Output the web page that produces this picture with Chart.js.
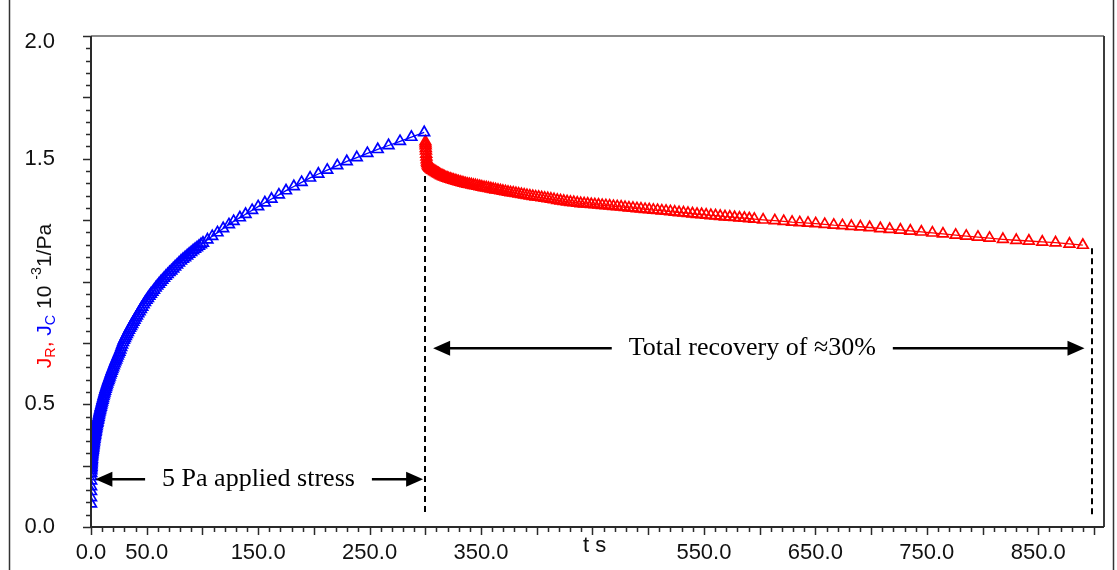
<!DOCTYPE html>
<html>
<head>
<meta charset="utf-8">
<script src="https://cdn.jsdelivr.net/npm/chart.js@4.4.1/dist/chart.umd.min.js"></script>
<style>
  html, body { margin: 0; padding: 0; background: #ffffff; }
  canvas { display: block; }
</style>
</head>
<body>
<canvas id="creep" width="1117" height="570"></canvas>
<script>
// Creep phase (5 Pa applied), time in s, compliance J_C in 10^-3 1/Pa
const creepTime = [
  0.02, 0.04, 0.07, 0.1, 0.15, 0.2, 0.25, 0.3, 0.35, 0.4,
  0.45, 0.5, 0.57, 0.65, 0.72, 0.8, 0.9, 1.0, 1.1, 1.2,
  1.32, 1.45, 1.57, 1.7, 1.85, 2.0, 2.15, 2.3, 2.47, 2.65,
  2.82, 3.0, 3.2, 3.4, 3.62, 3.85, 4.07, 4.3, 4.55, 4.8,
  5.07, 5.35, 5.62, 5.9, 6.2, 6.5, 6.8, 7.1, 7.42, 7.75,
  8.1, 8.45, 8.82, 9.2, 9.6, 10.0, 10.4, 10.8, 11.25, 11.7,
  12.15, 12.6, 13.1, 13.6, 14.1, 14.6, 15.15, 15.7, 16.25, 16.8,
  17.4, 18.0, 18.6, 19.2, 19.85, 20.5, 21.2, 21.9, 22.6, 23.3,
  24.05, 24.8, 25.55, 26.3, 27.1, 27.9, 28.75, 29.6, 30.45, 31.3,
  32.2, 33.1, 34.05, 35.0, 36.0, 37.0, 38.05, 39.1, 40.2, 41.3,
  42.45, 43.6, 44.8, 46.0, 47.25, 48.5, 49.8, 51.1, 52.45, 53.8,
  55.2, 56.6, 58.05, 59.5, 61.0, 62.5, 64.05, 65.6, 67.2, 68.8,
  70.45, 72.1, 73.8, 75.5, 77.25, 79.0, 80.8, 82.6, 84.45, 86.3,
  88.1, 89.9, 91.65, 93.4, 95.15, 96.9, 98.7,
  100.5, 104.5, 108.8, 113.5, 118.6, 123.8, 128.0, 133.6, 138.7, 144.6,
  150.0, 156.0, 162.0, 168.6, 175.0, 182.0, 189.0, 196.6, 204.0, 212.0,
  221.0, 229.5, 238.5, 248.0, 257.3, 267.0, 277.3, 287.5, 299.0
];
const creepCompliance = [
  0.095, 0.120, 0.145, 0.165, 0.188, 0.205, 0.219, 0.230, 0.238, 0.244,
  0.250, 0.255, 0.261, 0.267, 0.272, 0.277, 0.284, 0.290, 0.295, 0.299,
  0.304, 0.308, 0.313, 0.317, 0.322, 0.327, 0.332, 0.336, 0.341, 0.347,
  0.352, 0.358, 0.364, 0.369, 0.375, 0.381, 0.387, 0.392, 0.398, 0.404,
  0.410, 0.417, 0.423, 0.429, 0.436, 0.442, 0.448, 0.455, 0.462, 0.469,
  0.475, 0.482, 0.489, 0.496, 0.503, 0.510, 0.517, 0.524, 0.532, 0.540,
  0.547, 0.554, 0.562, 0.569, 0.576, 0.583, 0.591, 0.598, 0.605, 0.612,
  0.620, 0.627, 0.635, 0.642, 0.650, 0.658, 0.666, 0.674, 0.681, 0.689,
  0.697, 0.705, 0.713, 0.722, 0.732, 0.742, 0.752, 0.761, 0.769, 0.777,
  0.785, 0.793, 0.802, 0.810, 0.818, 0.826, 0.835, 0.843, 0.852, 0.860,
  0.869, 0.878, 0.887, 0.896, 0.906, 0.915, 0.924, 0.932, 0.941, 0.949,
  0.957, 0.965, 0.974, 0.982, 0.990, 0.998, 1.006, 1.014, 1.022, 1.029,
  1.037, 1.044, 1.052, 1.060, 1.068, 1.076, 1.084, 1.091, 1.098, 1.105,
  1.112, 1.119, 1.126, 1.132, 1.138, 1.144, 1.151,
  1.157, 1.170, 1.184, 1.199, 1.216, 1.232, 1.245, 1.260, 1.274, 1.290,
  1.305, 1.321, 1.336, 1.353, 1.370, 1.387, 1.404, 1.422, 1.438, 1.454,
  1.472, 1.489, 1.505, 1.522, 1.538, 1.554, 1.571, 1.588, 1.607
];

// Recovery phase (stress removed at 300 s), compliance J_R in 10^-3 1/Pa
const recoveryTime = [
  300.1, 300.2, 300.3, 300.45, 300.6, 300.8, 301.0, 301.25, 301.5, 301.8,
  302.2, 302.7, 303.3, 304.0, 304.8, 305.6, 306.4, 307.2, 308.0, 308.9,
  309.8, 310.8, 311.8, 312.8, 313.9, 315.0, 316.1, 317.3, 318.5, 319.7,
  321.0, 322.4, 323.8, 325.2, 326.7, 328.2, 329.7, 331.3, 332.9, 334.5,
  336.2, 337.9, 339.6, 341.4, 343.2, 345.0, 346.9, 348.8, 350.7, 352.7,
  354.7, 356.7, 358.8, 360.9, 363.0, 365.2, 367.4, 369.6, 371.9, 374.2,
  376.5, 378.9, 381.3, 383.7, 386.2, 388.7, 391.2, 393.8, 396.4, 399.0,
  401.7, 404.4, 407.1, 409.9, 412.7, 415.5, 418.4, 421.3, 424.2, 427.2,
  430.2, 433.2, 436.3, 439.4, 442.5, 445.7, 448.9, 452.1, 455.4, 458.7,
  462.0, 465.4, 468.8, 472.2, 475.7, 479.2, 482.7, 486.3, 489.9, 493.5,
  497.2, 500.9, 504.6, 508.4, 512.2, 516.0, 519.9, 523.8, 527.7, 531.7,
  535.7, 539.7, 543.8, 547.9, 552.0, 556.2, 560.4, 564.6, 568.9, 573.2,
  577.5, 581.9, 586.3, 590.7, 595.2,
  603.1, 613.6, 621.6, 629.1, 636.0, 643.4, 650.3, 658.4, 666.5, 674.3,
  682.3, 690.4, 698.7, 708.3, 716.7, 726.3, 735.2, 745.1, 755.0, 764.5,
  775.9, 785.4, 795.9, 806.3, 818.3, 830.3, 841.6, 853.6, 865.5, 878.0,
  890.0
];
const recoveryCompliance = [
  1.570, 1.562, 1.554, 1.543, 1.532, 1.519, 1.508, 1.497, 1.488, 1.481,
  1.475, 1.470, 1.466, 1.462, 1.459, 1.456, 1.454, 1.452, 1.449, 1.447,
  1.444, 1.441, 1.439, 1.436, 1.433, 1.431, 1.428, 1.426, 1.423, 1.421,
  1.419, 1.417, 1.415, 1.413, 1.411, 1.409, 1.407, 1.405, 1.403, 1.401,
  1.399, 1.397, 1.396, 1.394, 1.392, 1.391, 1.389, 1.387, 1.385, 1.383,
  1.382, 1.380, 1.378, 1.376, 1.374, 1.372, 1.370, 1.368, 1.366, 1.364,
  1.362, 1.361, 1.359, 1.357, 1.355, 1.353, 1.351, 1.349, 1.347, 1.345,
  1.344, 1.342, 1.340, 1.338, 1.336, 1.334, 1.331, 1.329, 1.327, 1.325,
  1.323, 1.322, 1.320, 1.318, 1.317, 1.316, 1.314, 1.313, 1.312, 1.310,
  1.309, 1.308, 1.306, 1.305, 1.304, 1.302, 1.300, 1.299, 1.297, 1.296,
  1.294, 1.293, 1.291, 1.290, 1.288, 1.287, 1.285, 1.283, 1.281, 1.280,
  1.278, 1.276, 1.274, 1.273, 1.271, 1.269, 1.268, 1.266, 1.264, 1.263,
  1.261, 1.259, 1.258, 1.256, 1.254,
  1.251, 1.248, 1.245, 1.242, 1.240, 1.238, 1.236, 1.233, 1.230, 1.228,
  1.225, 1.223, 1.220, 1.216, 1.213, 1.210, 1.206, 1.202, 1.198, 1.194,
  1.189, 1.185, 1.181, 1.177, 1.172, 1.168, 1.165, 1.161, 1.158, 1.153,
  1.148
];

// Axis tick labels
const xTickLabels = [0, 50, 150, 250, 350, 550, 650, 750, 850];
const yTickLabels = [0.0, 0.5, 1.5, 2.0];
const xTitle = 't s';
const xTitleAt = 452;

// Annotation text
const stressText = '5 Pa applied stress';
const recoveryText = 'Total recovery of \u224830%';

const BLUE = '#0000ff';
const RED = '#ff0000';

const toPoints = (xs, ys) => xs.map((t, i) => ({ x: t, y: ys[i] }));

const tickFont = '22px "Liberation Sans", Arial, sans-serif';
const noteFont = '26px "Liberation Serif", "Times New Roman", serif';

function arrowHead(ctx, tipX, y, dir) {
  const len = 17, half = 7.5;
  ctx.beginPath();
  ctx.moveTo(tipX, y);
  ctx.lineTo(tipX - dir * len, y - half);
  ctx.lineTo(tipX - dir * len, y + half);
  ctx.closePath();
  ctx.fill();
}

function labelledArrow(ctx, xs, ys, t1, t2, v, tText, text) {
  const x1 = xs.getPixelForValue(t1);
  const x2 = xs.getPixelForValue(t2);
  const y = ys.getPixelForValue(v);
  const xc = xs.getPixelForValue(tText);
  ctx.font = noteFont;
  const w = ctx.measureText(text).width;
  const gap = 17;
  ctx.strokeStyle = '#000';
  ctx.fillStyle = '#000';
  ctx.lineWidth = 2.5;
  ctx.setLineDash([]);
  ctx.beginPath();
  ctx.moveTo(x1 + 10, y); ctx.lineTo(xc - w / 2 - gap, y);
  ctx.moveTo(xc + w / 2 + gap, y); ctx.lineTo(x2 - 10, y);
  ctx.stroke();
  arrowHead(ctx, x1, y, -1);
  arrowHead(ctx, x2, y, 1);
  ctx.textAlign = 'center';
  ctx.textBaseline = 'middle';
  ctx.fillText(text, xc, y);
}

function dashedDrop(ctx, xs, ys, t, vTop, vBottom) {
  const x = Math.round(xs.getPixelForValue(t));
  ctx.strokeStyle = '#000';
  ctx.lineWidth = 2;
  ctx.setLineDash([6, 4]);
  ctx.beginPath();
  ctx.moveTo(x, ys.getPixelForValue(vTop));
  ctx.lineTo(x, ys.getPixelForValue(vBottom));
  ctx.stroke();
  ctx.setLineDash([]);
}

const frameAndText = {
  id: 'frameAndText',
  afterDatasetsDraw(chart) {
    const { ctx, chartArea: a, scales: { x, y } } = chart;
    ctx.save();

    // plot frame: top and right in grey, axes in near-black
    ctx.lineWidth = 2;
    ctx.strokeStyle = '#8a8a8a';
    ctx.beginPath(); ctx.moveTo(a.left, a.top); ctx.lineTo(a.right, a.top); ctx.stroke();
    ctx.strokeStyle = '#3c3c3c';
    ctx.beginPath(); ctx.moveTo(a.right, a.top); ctx.lineTo(a.right, a.bottom); ctx.stroke();
    ctx.strokeStyle = '#2a2a2a';
    ctx.beginPath();
    ctx.moveTo(a.left, a.top); ctx.lineTo(a.left, a.bottom); ctx.lineTo(a.right, a.bottom);
    ctx.stroke();

    // tick marks
    ctx.lineWidth = 1.5;
    ctx.strokeStyle = '#2a2a2a';
    ctx.beginPath();
    for (let i = 0; i <= 40; i++) {
      const py = Math.round(y.getPixelForValue(i * 0.05)) + 0.5;
      const len = i % 5 === 0 ? 8 : 5;
      ctx.moveTo(a.left - len, py); ctx.lineTo(a.left, py);
    }
    for (let i = 0; i <= 90; i++) {
      const px = Math.round(x.getPixelForValue(i * 10)) + 0.5;
      const len = i % 5 === 0 ? 8 : 5;
      ctx.moveTo(px, a.bottom); ctx.lineTo(px, a.bottom + len);
    }
    ctx.stroke();

    // tick labels
    ctx.font = tickFont;
    ctx.fillStyle = '#111';
    ctx.textBaseline = 'middle';
    ctx.textAlign = 'right';
    yTickLabels.forEach(v => {
      const py = Math.max(y.getPixelForValue(v), a.top + 6);
      ctx.fillText(v.toFixed(1), a.left - 36, py);
    });
    ctx.textAlign = 'center';
    xTickLabels.forEach(v => {
      ctx.fillText(v.toFixed(1), x.getPixelForValue(v), a.bottom + 26);
    });
    ctx.fillText(xTitle, x.getPixelForValue(xTitleAt), a.bottom + 19);

    // rotated y title: J_R, J_C 10^-3 1/Pa
    const parts = [
      { t: 'J', c: RED, s: 1, dy: 0 },
      { t: 'R', c: RED, s: 0.68, dy: 0.28 },
      { t: ', ', c: RED, s: 1, dy: 0 },
      { t: 'J', c: BLUE, s: 1, dy: 0 },
      { t: 'C', c: BLUE, s: 0.68, dy: 0.28 },
      { t: ' 10 ', c: '#111', s: 1, dy: 0 },
      { t: '-3', c: '#111', s: 0.68, dy: -0.38 },
      { t: '1/Pa', c: '#111', s: 1, dy: 0 }
    ];
    const fs = 21;
    let total = 0;
    parts.forEach(p => {
      ctx.font = (fs * p.s).toFixed(1) + 'px "Liberation Sans", Arial, sans-serif';
      p.w = ctx.measureText(p.t).width;
      total += p.w;
    });
    ctx.save();
    ctx.translate(45, 296 + total / 2);
    ctx.rotate(-Math.PI / 2);
    ctx.textAlign = 'left';
    ctx.textBaseline = 'middle';
    let cx = 0;
    parts.forEach(p => {
      ctx.font = (fs * p.s).toFixed(1) + 'px "Liberation Sans", Arial, sans-serif';
      ctx.fillStyle = p.c;
      ctx.fillText(p.t, cx, p.dy * fs);
      cx += p.w;
    });
    ctx.restore();

    // annotations
    dashedDrop(ctx, x, y, 300, 1.43, 0.045);
    dashedDrop(ctx, x, y, 898, 1.135, 0.036);
    labelledArrow(ctx, x, y, 3.9, 298, 0.194, 150.3, stressText);
    labelledArrow(ctx, x, y, 307, 891.5, 0.728, 593.4, recoveryText);

    // outer figure border
    ctx.lineWidth = 1.5;
    ctx.strokeStyle = '#333';
    ctx.beginPath();
    ctx.moveTo(9.5, 0); ctx.lineTo(9.5, 570);
    ctx.moveTo(1113.5, 0); ctx.lineTo(1113.5, 570);
    ctx.stroke();

    ctx.restore();
  }
};

new Chart(document.getElementById('creep'), {
  type: 'line',
  data: {
    datasets: [
      {
        label: 'J_C',
        data: toPoints(creepTime, creepCompliance),
        borderColor: BLUE,
        borderWidth: 1.3,
        pointStyle: 'triangle',
        pointRadius: 6.2,
        pointBorderWidth: 1.7,
        pointBorderColor: BLUE,
        pointBackgroundColor: 'rgba(0,0,0,0)',
        tension: 0,
        clip: 0
      },
      {
        label: 'J_R',
        data: toPoints(recoveryTime, recoveryCompliance),
        borderColor: RED,
        borderWidth: 1.3,
        pointStyle: 'triangle',
        pointRadius: 6.2,
        pointBorderWidth: 1.7,
        pointBorderColor: RED,
        pointBackgroundColor: 'rgba(0,0,0,0)',
        tension: 0,
        clip: 0
      }
    ]
  },
  options: {
    responsive: false,
    animation: false,
    devicePixelRatio: 1,
    layout: { padding: { left: 91, top: 36, right: 13, bottom: 43 } },
    scales: {
      x: { type: 'linear', min: 0, max: 909, display: false },
      y: { type: 'linear', min: 0, max: 2, display: false }
    },
    plugins: { legend: { display: false }, tooltip: { enabled: false } }
  },
  plugins: [frameAndText]
});
</script>
</body>
</html>
